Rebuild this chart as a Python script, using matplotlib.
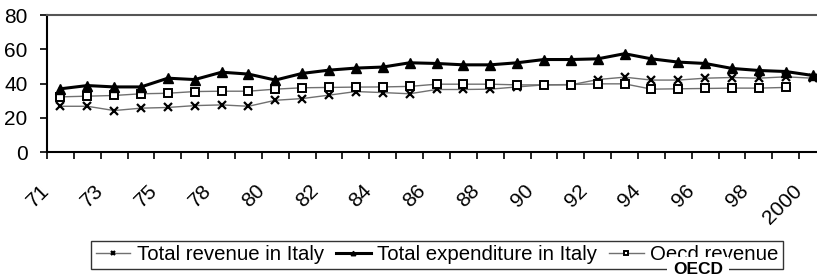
import matplotlib
matplotlib.use("Agg")
import matplotlib.pyplot as plt
from matplotlib.ticker import FixedLocator
import matplotlib.transforms as mtransforms

plt.rcParams['font.family'] = ['Liberation Sans', 'DejaVu Sans']

# Years on the category axis (1977 is not in the series)
years = ['71', '72', '73', '74', '75', '76', '78', '79', '80', '81', '82', '83',
         '84', '85', '86', '87', '88', '89', '90', '91', '92', '93', '94', '95',
         '96', '97', '98', '99', '2000']

# Values in % of GDP
revenue_italy = [26.7, 26.7, 24.2, 25.6, 26.0, 27.1, 27.5, 26.7, 30.2, 31.2,
                 33.2, 35.3, 34.7, 34.0, 36.5, 36.5, 36.7, 38.0, 39.2, 39.2,
                 42.3, 43.7, 42.0, 42.0, 43.1, 43.5, 43.1, 43.9, 43.1]
expenditure_italy = [36.9, 38.8, 38.0, 38.0, 43.1, 42.3, 46.6, 45.5, 42.0, 45.9,
                     47.8, 49.0, 49.6, 52.1, 51.7, 50.9, 50.9, 52.1, 54.0, 54.0,
                     54.4, 57.4, 54.4, 52.5, 51.7, 48.8, 47.6, 47.0, 44.7]
oecd_revenue = [32.2, 32.6, 33.0, 34.0, 34.3, 35.3, 35.5, 35.5, 36.7, 37.5,
                37.7, 37.9, 38.0, 38.3, 39.6, 39.6, 39.6, 39.2, 39.2, 39.4,
                39.8, 39.8, 36.7, 36.9, 37.1, 37.3, 37.3, 37.7]

fig = plt.figure(figsize=(8.17, 2.78), dpi=100)
ax = fig.add_axes([47 / 817, 1 - 152 / 278, (826 - 47) / 817, (152 - 15) / 278])

x = list(range(len(years)))

ax.plot(x, revenue_italy, color='#707070', lw=1.0, marker='x', ms=6,
        mec='black', mew=1.6, label='Total revenue in Italy', zorder=3)
ax.plot(x, expenditure_italy, color='black', lw=2.2, marker='^', ms=6.5,
        mfc='black', mec='black', label='Total expenditure in Italy', zorder=4)
ax.plot(x[:len(oecd_revenue)], oecd_revenue, color='#707070', lw=1.0, marker='s',
        ms=5.5, mfc='white', mec='black', mew=1.4, label='Oecd revenue', zorder=3)

ax.set_xlim(-0.5, len(years) - 0.5)
ax.set_ylim(0, 80)
ax.set_yticks([0, 20, 40, 60, 80])
ax.tick_params(axis='y', labelsize=15, length=5, width=1.2, pad=9, direction='out')

# category ticks between points, labels on every second year
ax.xaxis.set_minor_locator(FixedLocator([i - 0.5 for i in range(len(years) + 1)]))
ax.set_xticks(x[::2])
ax.set_xticklabels(years[::2], rotation=45, ha='right', va='top')
ax.tick_params(axis='x', which='major', length=0, labelsize=15, pad=21)
ax.tick_params(axis='x', which='minor', length=5, width=1.2, direction='out')
shift = mtransforms.ScaledTranslation(-5 / 72, 0, fig.dpi_scale_trans)
for lbl in ax.get_xticklabels():
    lbl.set_transform(lbl.get_transform() + shift)

for side in ['left', 'bottom']:
    ax.spines[side].set_linewidth(1.5)
    ax.spines[side].set_color('black')
ax.spines['top'].set_color('#555555')
ax.spines['top'].set_linewidth(1.5)
ax.spines['right'].set_visible(False)

leg = fig.legend(loc='center', bbox_to_anchor=(437 / 817, 1 - 255 / 278), ncol=3,
                 fontsize=14.7, frameon=True, fancybox=False, edgecolor='black',
                 handlelength=1.7, handletextpad=0.3, columnspacing=0.6,
                 borderpad=0.22, markerscale=0.5, borderaxespad=0)
leg.get_frame().set_linewidth(1.0)

# publisher stamp that sits over the legend
fig.text(698 / 817, 1 - 270 / 278, 'OECD', ha='center', va='center', fontsize=12.5,
         fontweight='bold', zorder=10,
         bbox=dict(facecolor='white', edgecolor='none', pad=4))

fig.savefig('out.png', dpi=100)
